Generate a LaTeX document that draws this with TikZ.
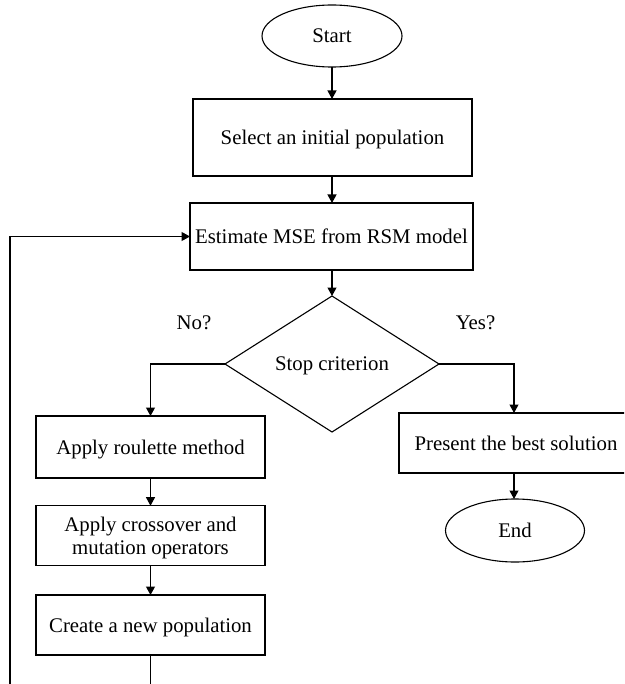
\documentclass[tikz,border=0pt]{standalone}
\usepackage{fontspec}
\setmainfont{Liberation Serif}
\usetikzlibrary{shapes.geometric,arrows.meta}
\tikzset{
  base/.style={draw=black, line width=1.1pt, inner sep=0pt, outer sep=0pt, align=center,
    text depth=0pt, font=\fontsize{20.8}{22.7}\selectfont},
  procbox/.style={base, rectangle},
  termnode/.style={base, ellipse},
  decnode/.style={base, diamond},
  lbl/.style={inner sep=0pt, text depth=0pt, font=\fontsize{20.8}{22.7}\selectfont},
  conn/.style={line width=1.1pt, draw=black},
  arr/.style={conn, -{Triangle[length=8.5pt,width=9pt]}}
}
\begin{document}
\begin{tikzpicture}[x=1pt,y=-1pt]
\useasboundingbox (0,0) rectangle (624,684);
\clip (0,0) rectangle (624,684);
\node[termnode, minimum width=140pt, minimum height=62pt] (start) at (332,36) {Start};
\node[procbox, minimum width=279pt, minimum height=77pt] (select) at (332.5,137.5) {Select an initial population};
\node[procbox, minimum width=283pt, minimum height=67pt] (estimate) at (331.5,236.5) {Estimate MSE from RSM model};
\node[decnode, minimum width=214pt, minimum height=136pt] (stop) at (332,364) {Stop criterion};
\node[procbox, minimum width=229pt, minimum height=62pt] (roulette) at (150.5,447) {Apply roulette method};
\node[procbox, minimum width=229pt, minimum height=60pt] (cross) at (150.5,535.7) {Apply crossover and\\mutation operators};
\node[procbox, minimum width=229pt, minimum height=60pt] (create) at (150.5,625) {Create a new population};
\node[procbox, minimum width=234pt, minimum height=60pt] (present) at (516,443) {Present the best solution};
\node[termnode, minimum width=139pt, minimum height=63pt] (end) at (515,530.5) {End};
\node[lbl] (no) at (194,323) {No?};
\node[lbl] (yes) at (475.5,323) {Yes?};
\coordinate (lb) at (150.5,700);
\coordinate (ll) at (10,700);
\coordinate (lt) at (10,236.5);
\coordinate (yr) at (514,364);

\draw[arr] (start.south) -- (start.south |- select.north);
\draw[arr] (select.south -| start.south) -- (start.south |- estimate.north);
\draw[arr] (estimate.south -| stop.north) -- (stop.north);
\draw[arr] (stop.west) -| (roulette.north);
\draw[arr] (stop.east) -- (yr) -- (yr |- present.north);
\draw[arr] (roulette.south) -- (cross.north);
\draw[arr] (cross.south) -- (create.north);
\draw[arr] (yr |- present.south) -- (yr |- end.north);
\draw[arr] (create.south) -- (lb) -- (ll) -- (lt) -- (estimate.west);
\end{tikzpicture}
\end{document}
